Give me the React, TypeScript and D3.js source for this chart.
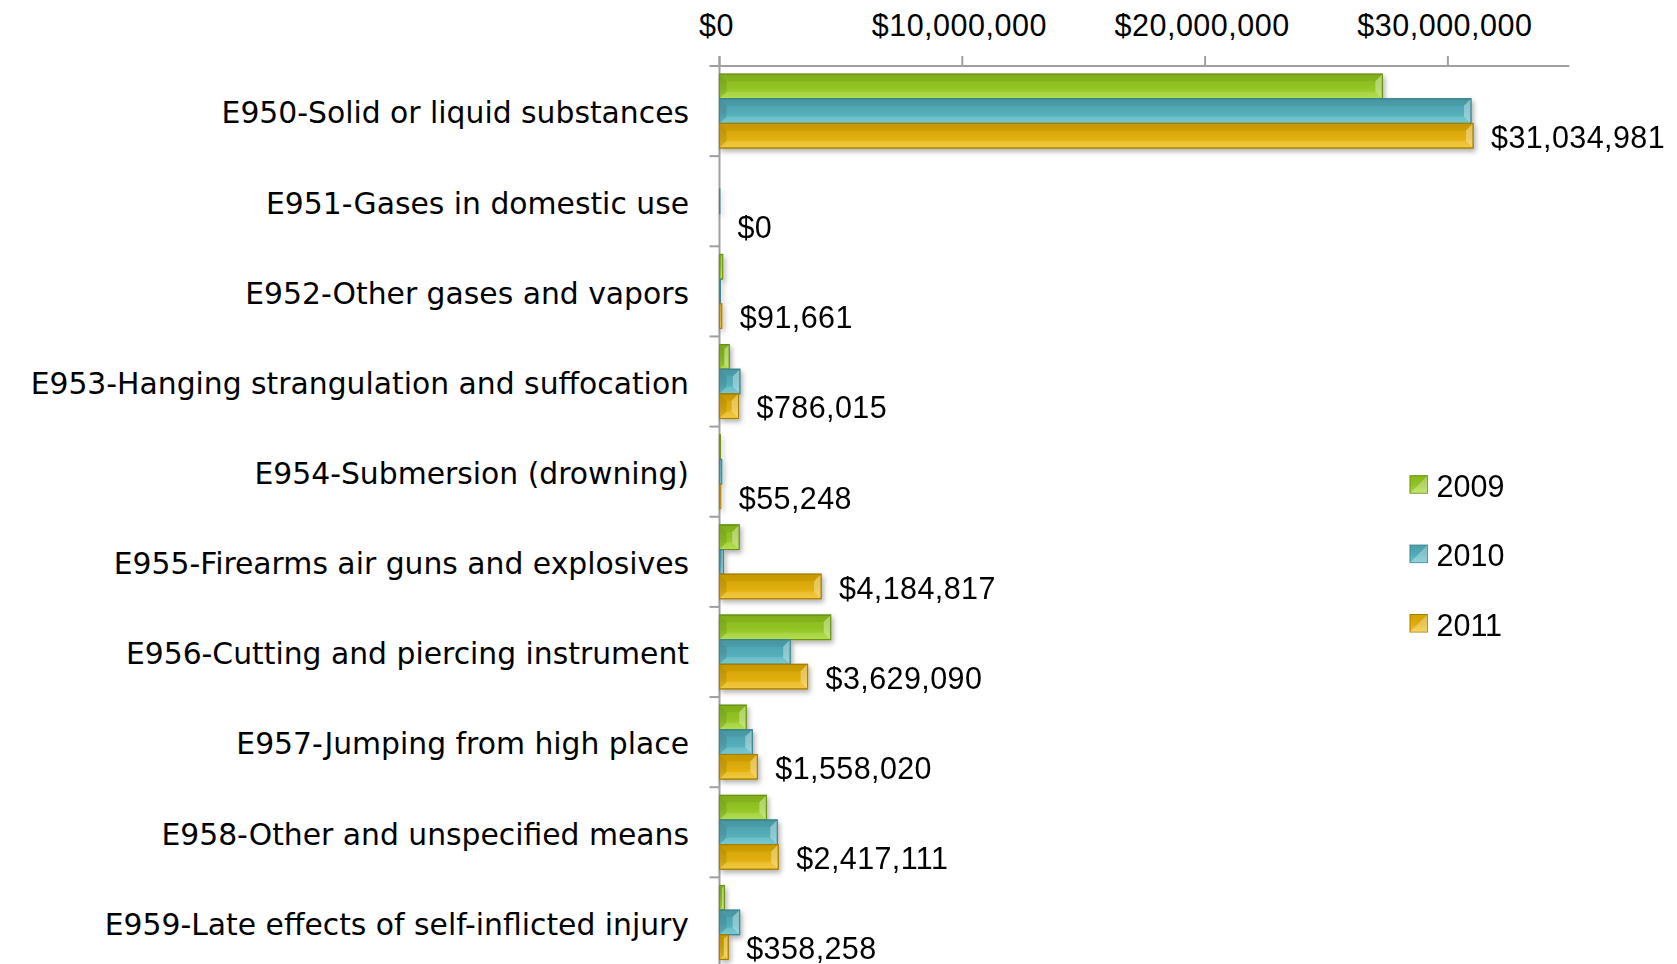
import React from "react";
import * as d3 from "d3";

const categories = [
  "E950-Solid or liquid substances",
  "E951-Gases in domestic use",
  "E952-Other gases and vapors",
  "E953-Hanging strangulation and suffocation",
  "E954-Submersion (drowning)",
  "E955-Firearms air guns and explosives",
  "E956-Cutting and piercing instrument",
  "E957-Jumping from high place",
  "E958-Other and unspecified means",
  "E959-Late effects of self-inflicted injury",
];
const years = ["2009", "2010", "2011"];
const values2009 = [27300000, 0, 130000, 400000, 40000, 810000, 4580000, 1100000, 1930000, 200000];
const values2010 = [30950000, 15000, 40000, 840000, 90000, 160000, 2910000, 1350000, 2380000, 830000];
const values2011 = [31034981, 0, 91661, 786015, 55248, 4184817, 3629090, 1558020, 2417111, 358258];
const xTicks = [0, 10000000, 20000000, 30000000];
const xMax = 35000000;

const seriesValues = [values2009, values2010, values2011];
const colors = [
  { top: "#86b81c", bottom: "#a9da36", stroke: "#6a9212" },
  { top: "#4b9fab", bottom: "#63c2cc", stroke: "#3a8590" },
  { top: "#d2a100", bottom: "#f3c222", stroke: "#a67f00" },
];

const W = 1677;
const H = 964;
const axisY = 66;
const x0 = 719.5;
const x1 = 1569.3;
const bandH = 90.15;
const numFont = "'Liberation Sans', Arial, sans-serif";
const labelFont = "'DejaVu Sans', sans-serif";

function Bar({ x, y, w, h, ci }: { x: number; y: number; w: number; h: number; ci: number }) {
  if (w <= 0) return null;
  const xr = x + w;
  const yb = y + h;
  const b = Math.min(7, w / 2, h / 2);
  return (
    <g>
      <rect x={x} y={y} width={w} height={h} fill={`url(#grad${ci})`} stroke={colors[ci].stroke} strokeWidth={1} />
      {w > 2 && (
        <>
          <polygon points={`${x},${y} ${xr},${y} ${xr - b},${y + b} ${x + b},${y + b}`} fill="#000" opacity={0.05} />
          <polygon points={`${x},${y} ${x + b},${y + b} ${x + b},${yb - b} ${x},${yb}`} fill="#000" opacity={0.1} />
          <polygon points={`${xr},${y} ${xr},${yb} ${xr - b},${yb - b} ${xr - b},${y + b}`} fill="#fff" opacity={0.35} />
          <polygon points={`${x},${yb} ${x + b},${yb - b} ${xr - b},${yb - b} ${xr},${yb}`} fill="#fff" opacity={0.12} />
          <rect x={x} y={y} width={w} height={h} fill="none" stroke={colors[ci].stroke} strokeWidth={1} />
        </>
      )}
    </g>
  );
}

export default function App() {
  const xScale = d3.scaleLinear().domain([0, xMax]).range([x0, x1]);
  const yScale = d3
    .scaleBand<string>()
    .domain(categories)
    .range([axisY, axisY + bandH * categories.length])
    .padding(0);
  const inner = d3.scaleBand<string>().domain(years).range([0, yScale.bandwidth()]).paddingInner(0).paddingOuter(0.33);
  const fmt = d3.format("$,.0f");

  return (
    <svg width={W} height={H} style={{ position: "absolute", left: 0, top: 0, background: "#fff" }}>
      <defs>
        {colors.map((c, i) => (
          <linearGradient key={i} id={`grad${i}`} x1="0" y1="0" x2="0" y2="1">
            <stop offset="0%" stopColor={c.top} />
            <stop offset="55%" stopColor={d3.interpolateRgb(c.top, c.bottom)(0.35)} />
            <stop offset="100%" stopColor={c.bottom} />
          </linearGradient>
        ))}
        <filter id="shadow" x="-5%" y="-20%" width="115%" height="150%">
          <feDropShadow dx="2" dy="3" stdDeviation="2.5" floodColor="#000" floodOpacity="0.3" />
        </filter>
      </defs>

      {/* axes */}
      <line x1={x0 - 10} x2={x1} y1={axisY} y2={axisY} stroke="#a0a0a0" strokeWidth={2} />
      <line x1={x0} x2={x0} y1={axisY - 10} y2={H + 10} stroke="#a0a0a0" strokeWidth={2} />
      {xTicks.map((t) => (
        <g key={t}>
          <line x1={xScale(t)} x2={xScale(t)} y1={axisY - 10} y2={axisY} stroke="#a0a0a0" strokeWidth={2} />
          <text
            x={xScale(t) - 3}
            y={axisY - 30}
            textAnchor="middle"
            fontFamily={numFont}
            fontSize={30.5}
            letterSpacing={0.5}
            fill="#000"
          >
            {fmt(t)}
          </text>
        </g>
      ))}
      {categories.map((c, i) => (
        <line
          key={c}
          x1={x0 - 10}
          x2={x0}
          y1={axisY + bandH * (i + 1)}
          y2={axisY + bandH * (i + 1)}
          stroke="#a0a0a0"
          strokeWidth={2}
        />
      ))}

      {/* category labels */}
      {categories.map((c) => (
        <text
          key={c}
          x={689}
          y={(yScale(c) as number) + yScale.bandwidth() / 2 + 12.3}
          textAnchor="end"
          fontFamily={labelFont}
          fontSize={29.8}
          fill="#000"
        >
          {c}
        </text>
      ))}

      {/* bars */}
      <g filter="url(#shadow)">
        {categories.map((c, i) =>
          years.map((yr, si) => {
            const v = seriesValues[si][i];
            const y = (yScale(c) as number) + (inner(yr) as number);
            return <Bar key={c + yr} x={x0} y={y} w={xScale(v) - x0} h={inner.bandwidth()} ci={si} />;
          })
        )}
      </g>

      {/* data labels for 2011 */}
      {categories.map((c, i) => {
        const v = values2011[i];
        const y = (yScale(c) as number) + (inner("2011") as number) + inner.bandwidth() / 2;
        return (
          <text
            key={c}
            x={xScale(v) + 18}
            y={y + 12.3}
            fontFamily={numFont}
            fontSize={30.5}
            letterSpacing={0.4}
            fill="#000"
          >
            {fmt(v)}
          </text>
        );
      })}

      {/* legend */}
      {years.map((yr, i) => {
        const ly = 475.7 + i * 69.4;
        const s = 17.5;
        return (
          <g key={yr}>
            <rect x={1410} y={ly} width={s} height={s} fill={`url(#grad${i})`} stroke={colors[i].stroke} strokeWidth={1} />
            <polygon points={`${1410},${ly + s} ${1410 + s},${ly} ${1410 + s},${ly + s}`} fill="#fff" opacity={0.3} />
            <text x={1436.5} y={ly + 21} fontFamily={numFont} fontSize={30.5} fill="#000">
              {yr}
            </text>
          </g>
        );
      })}
    </svg>
  );
}
